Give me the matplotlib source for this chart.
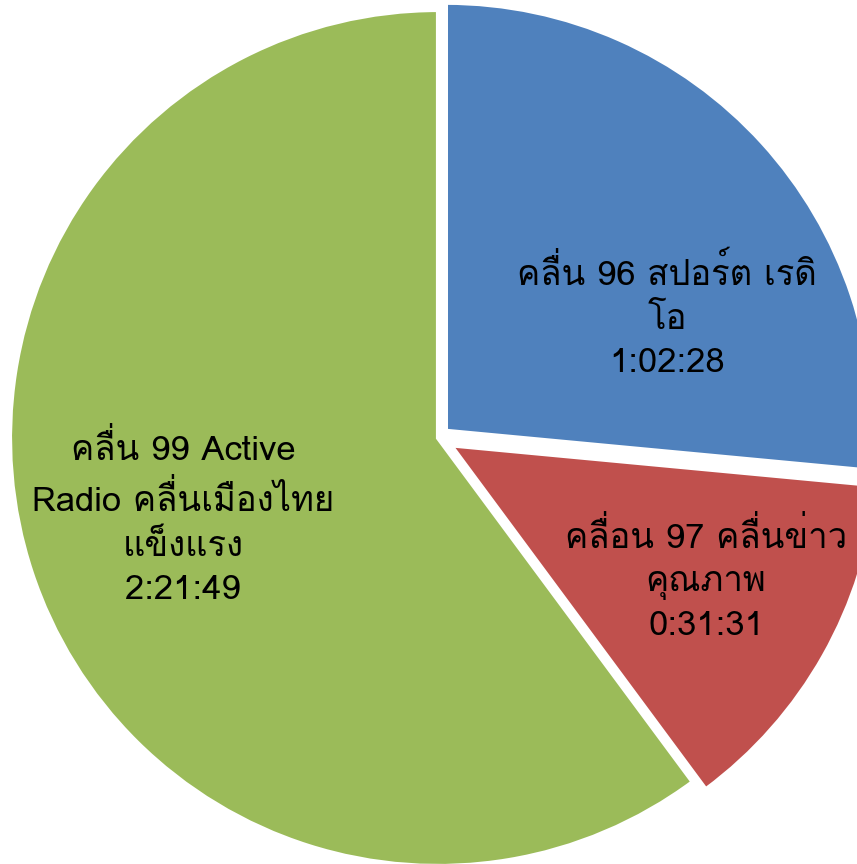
import matplotlib
matplotlib.use("Agg")
import matplotlib.pyplot as plt
from matplotlib import font_manager

# listening time per station, h:mm:ss
stations = ["คลื่น 96 สปอร์ต เรดิ\nโอ", "คลื่อน 97 คลื่นข่าว\nคุณภาพ",
            "คลื่น 99 Active\nRadio คลื่นเมืองไทย\nแข็งแรง"]
durations = ["1:02:28", "0:31:31", "2:21:49"]
colors = ["#4F81BD", "#C0504D", "#9BBB59"]


def to_seconds(s):
    h, m, sec = s.split(":")
    return int(h) * 3600 + int(m) * 60 + int(sec)


seconds = [to_seconds(d) for d in durations]

# pick a font with Thai glyphs if there is one
thai = None
for f in font_manager.fontManager.ttflist:
    name = f.name
    if any(k in name for k in ["Thai", "Tahoma", "Garuda", "Loma", "Waree", "Norasi", "Sarabun", "Kinnari"]):
        thai = name
        break
families = ([thai] if thai else []) + ["DejaVu Sans"]
plt.rcParams["font.family"] = families

fig = plt.figure(figsize=(8.57, 8.64), dpi=100)
ax = fig.add_axes([0, 0, 1, 1])

ax.pie(seconds, colors=colors, startangle=90, counterclock=False,
       explode=[0.025, 0.035, 0.0],
       wedgeprops=dict(edgecolor="white", linewidth=3))

# pie centre at (438, 438) px, radius 428 px
r = 428.0
ax.set_xlim(-438 / r, (857 - 438) / r)
ax.set_ylim((438 - 864) / r, 438 / r)
ax.set_aspect("auto")
ax.axis("off")

label_pos = [(667, 316), (706, 580), (183, 518)]
for name, dur, (px, py) in zip(stations, durations, label_pos):
    ax.text(px / 857, 1 - py / 864, name + "\n" + dur, transform=ax.transAxes,
            ha="center", va="center", fontsize=25, linespacing=1.49, color="black")

fig.savefig("out.png", dpi=100)
